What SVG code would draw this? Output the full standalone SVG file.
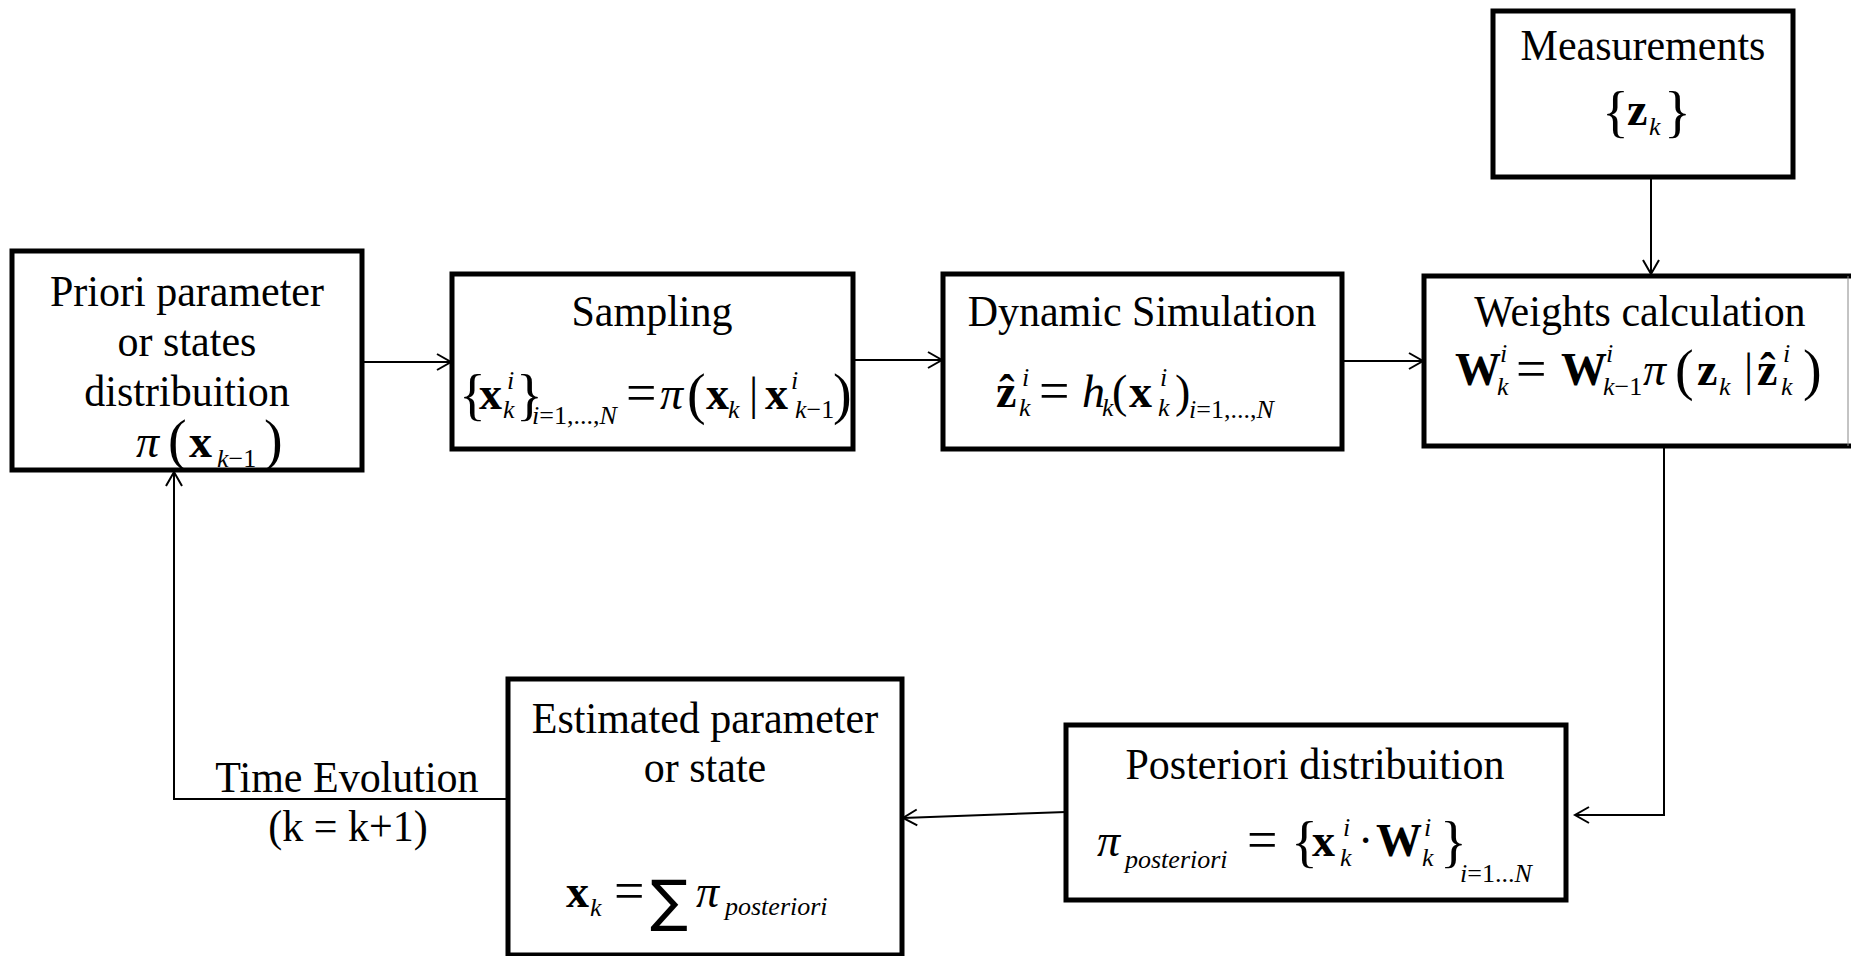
<svg xmlns="http://www.w3.org/2000/svg" width="1851" height="956" viewBox="0 0 1851 956">
<defs>
<style>
.box{fill:#fff;stroke:#000;stroke-width:5}
.t{font-family:"Liberation Serif","Times New Roman",serif;font-size:42px;fill:#000;transform-box:fill-box;transform-origin:50% 50%;transform:scaleY(1.07)}
.m{font-family:"Liberation Serif","Times New Roman",serif;font-size:46px;fill:#000}
.eq{font-family:"Liberation Serif","Times New Roman",serif;font-size:54px;fill:#000}
.b{font-weight:bold}
.i{font-style:italic}
.s{font-family:"Liberation Serif","Times New Roman",serif;font-size:26px;fill:#000}
.br{font-family:"Liberation Serif","Times New Roman",serif;font-size:56px;fill:#000}
.sum{font-family:"DejaVu Sans",sans-serif;font-size:56px;fill:#000}
.c{fill:none;stroke:#000;stroke-width:2}
</style>
<marker id="arr" markerUnits="userSpaceOnUse" markerWidth="18" markerHeight="20" refX="15" refY="9" orient="auto">
<path d="M1,1 L15,9 L1,17" fill="none" stroke="#000" stroke-width="2"/>
</marker>
</defs>
<rect width="1851" height="956" fill="#fff"/>

<g id="connectors">
<line class="c" x1="362" y1="362" x2="451" y2="362" marker-end="url(#arr)"/>
<line class="c" x1="853" y1="360" x2="942" y2="360" marker-end="url(#arr)"/>
<line class="c" x1="1342" y1="361" x2="1423" y2="361" marker-end="url(#arr)"/>
<line class="c" x1="1651" y1="177" x2="1651" y2="274" marker-end="url(#arr)"/>
<polyline class="c" points="1664,447 1664,815 1575,815" marker-end="url(#arr)"/>
<line class="c" x1="1066" y1="812" x2="903" y2="818" marker-end="url(#arr)"/>
<polyline class="c" points="508,799 174,799 174,472" marker-end="url(#arr)"/>
</g>

<g id="priori">
<rect class="box" x="12" y="251" width="350" height="219"/>
<text class="t" x="187" y="305" text-anchor="middle">Priori parameter</text>
<text class="t" x="187" y="355" text-anchor="middle">or states</text>
<text class="t" x="187" y="405" text-anchor="middle">distribuition</text>
<text class="m i" x="136" y="457" font-size="50">π</text>
<text class="br" x="168" y="459" font-size="54">(</text>
<text class="m b" x="189" y="457" font-size="52">x</text>
<text class="s" x="217" y="467" font-size="30"><tspan class="i">k</tspan>−1</text>
<text class="br" x="264" y="459" font-size="54">)</text>
</g>

<g id="sampling">
<rect class="box" x="452" y="274" width="401" height="175"/>
<text class="t" x="652" y="325" text-anchor="middle">Sampling</text>
<text class="br" x="459" y="414">{</text>
<text class="m b" x="479" y="409">x</text>
<text class="s i" x="507" y="389">i</text>
<text class="s i" x="503" y="418">k</text>
<text class="br" x="516" y="414">}</text>
<text class="s" x="532" y="424" font-size="21"><tspan class="i">i</tspan>=1,...,<tspan class="i">N</tspan></text>
<text class="eq" x="626" y="411">=</text>
<text class="m i" x="660" y="409">π</text>
<text class="br" x="687" y="413" font-size="60">(</text>
<text class="m b" x="706" y="409">x</text>
<text class="s i" x="728" y="418">k</text>
<text class="m" x="749" y="409">|</text>
<text class="m b" x="765" y="409">x</text>
<text class="s i" x="791" y="389">i</text>
<text class="s" x="795" y="418"><tspan class="i">k</tspan>−1</text>
<text class="br" x="833" y="413" font-size="60">)</text>
</g>

<g id="dynamic">
<rect class="box" x="943" y="274" width="399" height="175"/>
<text class="t" x="1142" y="325" text-anchor="middle">Dynamic Simulation</text>
<text class="m b" x="996" y="407">ẑ</text>
<text class="s i" x="1022" y="386">i</text>
<text class="s i" x="1019" y="416">k</text>
<text class="eq" x="1039" y="409">=</text>
<text class="m i" x="1082" y="407">h</text>
<text class="s i" x="1102" y="416">k</text>
<text class="m" x="1112" y="407">(</text>
<text class="m b" x="1129" y="407">x</text>
<text class="s i" x="1160" y="386">i</text>
<text class="s i" x="1158" y="416">k</text>
<text class="m" x="1175" y="407">)</text>
<text class="s" x="1189" y="418" font-size="25"><tspan class="i">i</tspan>=1,...,<tspan class="i">N</tspan></text>
</g>

<g id="measurements">
<rect class="box" x="1493" y="11" width="300" height="166"/>
<text class="t" x="1643" y="59" text-anchor="middle">Measurements</text>
<text class="br" x="1602" y="131" font-size="70">{</text>
<text class="m b" x="1627" y="125">z</text>
<text class="s i" x="1649" y="135">k</text>
<text class="br" x="1664" y="131" font-size="70">}</text>
</g>

<g id="weights">
<rect class="box" x="1424" y="276" width="432" height="170"/>
<line x1="1848" y1="276" x2="1848" y2="446" stroke="#888" stroke-width="1"/>
<text class="t" x="1640" y="325" text-anchor="middle">Weights calculation</text>
<text class="m b" x="1455" y="385">W</text>
<text class="s i" x="1500" y="362">i</text>
<text class="s i" x="1497" y="395">k</text>
<text class="eq" x="1516" y="387">=</text>
<text class="m b" x="1561" y="385">W</text>
<text class="s i" x="1606" y="362">i</text>
<text class="s" x="1603" y="395"><tspan class="i">k</tspan>−1</text>
<text class="m i" x="1643" y="385">π</text>
<text class="br" x="1675" y="389" font-size="60">(</text>
<text class="m b" x="1697" y="385">z</text>
<text class="s i" x="1719" y="395">k</text>
<text class="m" x="1744" y="385">|</text>
<text class="m b" x="1757" y="385">ẑ</text>
<text class="s i" x="1783" y="362">i</text>
<text class="s i" x="1781" y="395">k</text>
<text class="br" x="1803" y="389" font-size="60">)</text>
</g>

<g id="posteriori">
<rect class="box" x="1066" y="725" width="500" height="175"/>
<text class="t" x="1315" y="778" text-anchor="middle">Posteriori distribuition</text>
<text class="m i" x="1097" y="856" font-size="54">π</text>
<text class="s i" x="1125" y="868" font-size="27">posteriori</text>
<text class="eq" x="1247" y="858">=</text>
<text class="br" x="1291" y="861" font-size="62">{</text>
<text class="m b" x="1312" y="856">x</text>
<text class="s i" x="1343" y="836">i</text>
<text class="s i" x="1340" y="866">k</text>
<text class="m" x="1358" y="856">·</text>
<text class="m b" x="1376" y="856">W</text>
<text class="s i" x="1424" y="836">i</text>
<text class="s i" x="1422" y="866">k</text>
<text class="br" x="1440" y="861" font-size="62">}</text>
<text class="s" x="1460" y="882" font-size="29"><tspan class="i">i</tspan>=1...<tspan class="i">N</tspan></text>
</g>

<g id="estimated">
<rect class="box" x="508" y="679" width="394" height="276"/>
<text class="t" x="705" y="732" text-anchor="middle">Estimated parameter</text>
<text class="t" x="705" y="781" text-anchor="middle">or state</text>
<text class="m b" x="566" y="907">x</text>
<text class="s i" x="590" y="916">k</text>
<text class="eq" x="614" y="909">=</text>
<text class="sum" x="650" y="920">∑</text>
<text class="m i" x="696" y="907" font-size="50">π</text>
<text class="s i" x="725" y="915" font-size="24">posteriori</text>
</g>

<g id="labels">
<text class="t" x="347" y="791" text-anchor="middle">Time Evolution</text>
<text class="t" x="348" y="840" text-anchor="middle">(k = k+1)</text>
</g>
</svg>
